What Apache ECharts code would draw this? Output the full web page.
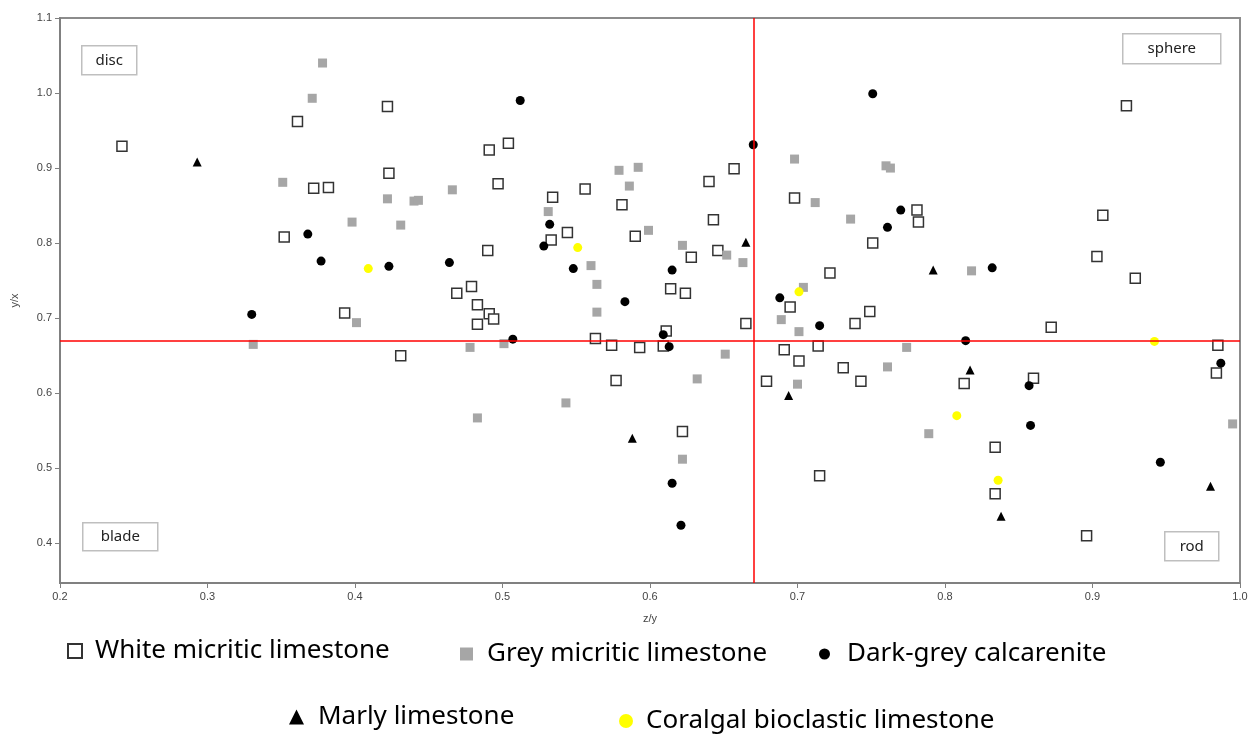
<!DOCTYPE html>
<html>
<head>
<meta charset="utf-8">
<script src="https://cdn.jsdelivr.net/npm/echarts@6/dist/echarts.min.js"></script>
<style>
  html, body { margin: 0; padding: 0; background: #fff; }
  #chart { width: 1252px; height: 734px; }
</style>
</head>
<body>
<div id="chart"></div>
<script>
// [z/y, y/x] pairs
const whiteMicritic = [
  [0.242,0.929],[0.361,0.962],[0.422,0.982],[0.423,0.893],[0.372,0.873],[0.382,0.874],[0.352,0.808],[0.393,0.707],[0.431,0.650],
  [0.491,0.924],[0.504,0.933],[0.497,0.879],[0.490,0.790],[0.479,0.742],[0.469,0.733],[0.483,0.718],[0.491,0.706],[0.494,0.699],[0.483,0.692],
  [0.534,0.861],[0.533,0.804],[0.544,0.814],[0.556,0.872],[0.581,0.851],[0.590,0.809],
  [0.563,0.673],[0.574,0.664],[0.577,0.617],[0.593,0.661],
  [0.611,0.683],[0.609,0.663],[0.614,0.739],[0.624,0.733],[0.628,0.781],[0.643,0.831],[0.640,0.882],[0.657,0.899],[0.646,0.790],[0.665,0.693],[0.622,0.549],
  [0.695,0.715],[0.749,0.709],[0.739,0.693],[0.691,0.658],[0.714,0.663],[0.701,0.643],[0.679,0.616],[0.731,0.634],[0.743,0.616],[0.715,0.490],
  [0.698,0.860],[0.751,0.800],[0.722,0.760],[0.781,0.844],[0.782,0.828],
  [0.923,0.983],[0.907,0.837],[0.903,0.782],[0.929,0.753],[0.872,0.688],
  [0.985,0.664],[0.984,0.627],[0.813,0.613],[0.860,0.620],[0.834,0.528],[0.834,0.466],[0.896,0.410]
];
const greyMicritic = [
  [0.378,1.040],[0.371,0.993],[0.351,0.881],[0.398,0.828],[0.331,0.665],[0.401,0.694],
  [0.422,0.859],[0.440,0.856],[0.443,0.857],[0.466,0.871],[0.431,0.824],[0.478,0.661],[0.501,0.666],[0.483,0.567],
  [0.531,0.842],[0.579,0.897],[0.592,0.901],[0.586,0.876],[0.599,0.817],[0.560,0.770],[0.564,0.745],[0.564,0.708],[0.543,0.587],
  [0.622,0.797],[0.652,0.784],[0.663,0.774],[0.651,0.652],[0.632,0.619],[0.622,0.512],
  [0.698,0.912],[0.760,0.903],[0.763,0.900],[0.712,0.854],[0.736,0.832],[0.704,0.741],[0.689,0.698],[0.701,0.682],[0.700,0.612],
  [0.761,0.635],[0.774,0.661],[0.789,0.546],[0.818,0.763],[0.995,0.559]
];
const darkGreyCalcarenite = [
  [0.330,0.705],[0.368,0.812],[0.377,0.776],[0.423,0.769],[0.464,0.774],[0.512,0.990],[0.532,0.825],[0.528,0.796],[0.548,0.766],[0.583,0.722],[0.507,0.672],
  [0.615,0.764],[0.609,0.678],[0.613,0.662],[0.615,0.480],[0.621,0.424],[0.670,0.931],[0.751,0.999],[0.770,0.844],[0.761,0.821],[0.688,0.727],[0.715,0.690],
  [0.832,0.767],[0.814,0.670],[0.857,0.610],[0.858,0.557],[0.946,0.508],[0.987,0.640]
];
const marlyLimestone = [
  [0.293,0.908],[0.665,0.801],[0.792,0.764],[0.588,0.540],[0.694,0.597],[0.817,0.631],[0.838,0.436],[0.980,0.476]
];
const coralgalLimestone = [
  [0.409,0.766],[0.551,0.794],[0.701,0.735],[0.808,0.570],[0.836,0.484],[0.942,0.669]
];
const xTicks = [0.2, 1.0];
const yRange = [0.347, 1.1];
const divider = 0.67;   // red quadrant lines, on both axes
const quadrants = ['disc', 'sphere', 'blade', 'rod'];

const tickFont = '"Liberation Sans Narrow", "Liberation Sans", sans-serif';
const textFont = '"Noto Sans", "Open Sans", sans-serif';

const chart = echarts.init(document.getElementById('chart'));

function quadBox(label, x, y, w, h) {
  return {
    type: 'group', left: x, top: y,
    children: [
      { type: 'rect', shape: { x: 0, y: 0, width: w, height: h },
        style: { fill: '#fff', stroke: '#bfbfbf', lineWidth: 1.5 } },
      { type: 'text', x: w / 2, y: h / 2,
        style: { text: label, fill: '#222', font: '15px ' + textFont, align: 'center', verticalAlign: 'middle' } }
    ]
  };
}

function legendAt(name, left, top, w, h, gap) {
  return {
    data: [name], left: left, top: top, itemWidth: w, itemHeight: h,
    textStyle: { fontFamily: textFont, fontSize: 26, color: '#000', padding: [0, 0, 0, gap] }
  };
}

const option = {
  animation: false,
  backgroundColor: '#fff',
  grid: { left: 60, right: 12, top: 18, bottom: 151, show: true, borderColor: '#8c8c8c', borderWidth: 2 },
  legend: [
    legendAt('White micritic limestone', 62, 633, 14, 14, 8),
    legendAt('Grey micritic limestone', 455, 636, 13, 13, 9),
    legendAt('Dark-grey calcarenite', 814, 636, 11, 11, 12),
    legendAt('Marly limestone', 284, 699, 15, 15, 9),
    legendAt('Coralgal bioclastic limestone', 614, 703, 14, 14, 8)
  ],
  xAxis: {
    type: 'value', min: xTicks[0], max: xTicks[1], interval: 0.1,
    name: 'z/y', nameLocation: 'middle', nameGap: 30,
    nameTextStyle: { fontFamily: tickFont, fontSize: 11, color: '#444' },
    axisLine: { lineStyle: { color: '#808080', width: 2 } },
    axisTick: { show: true, length: 5, lineStyle: { color: '#808080' } },
    axisLabel: { fontFamily: tickFont, fontSize: 11, color: '#444', margin: 8, formatter: v => v.toFixed(1) },
    splitLine: { show: false }
  },
  yAxis: {
    type: 'value', min: yRange[0], max: yRange[1], splitNumber: 8,
    name: 'y/x', nameLocation: 'middle', nameGap: 40,
    nameTextStyle: { fontFamily: tickFont, fontSize: 11, color: '#444' },
    axisLine: { show: true, lineStyle: { color: '#808080', width: 2 } },
    axisTick: { show: true, length: 5, lineStyle: { color: '#808080' } },
    axisLabel: { fontFamily: tickFont, fontSize: 11, color: '#444', margin: 8, showMinLabel: false,
      formatter: v => v.toFixed(1) },
    splitLine: { show: false }
  },
  graphic: [
    quadBox(quadrants[0], 81, 45, 55, 29),
    quadBox(quadrants[1], 1122, 33, 98, 30),
    quadBox(quadrants[2], 82, 522, 75, 28),
    quadBox(quadrants[3], 1164, 531, 54, 29)
  ],
  series: [
    {
      name: 'White micritic limestone', type: 'scatter', data: whiteMicritic,
      symbol: 'rect', symbolSize: 10,
      itemStyle: { color: '#fff', borderColor: '#333', borderWidth: 1.5, opacity: 1 },
      markLine: {
        silent: true, symbol: 'none', label: { show: false },
        lineStyle: { color: '#ff0000', width: 1.5, type: 'solid' },
        data: [{ xAxis: divider }, { yAxis: divider }]
      },
      z: 3
    },
    {
      name: 'Grey micritic limestone', type: 'scatter', data: greyMicritic,
      symbol: 'rect', symbolSize: 9,
      itemStyle: { color: '#a6a6a6', opacity: 1 }, z: 3
    },
    {
      name: 'Dark-grey calcarenite', type: 'scatter', data: darkGreyCalcarenite,
      symbol: 'circle', symbolSize: 9,
      itemStyle: { color: '#000', opacity: 1 }, z: 3
    },
    {
      name: 'Marly limestone', type: 'scatter', data: marlyLimestone,
      symbol: 'triangle', symbolSize: 9,
      itemStyle: { color: '#000', opacity: 1 }, z: 3
    },
    {
      name: 'Coralgal bioclastic limestone', type: 'scatter', data: coralgalLimestone,
      symbol: 'circle', symbolSize: 9,
      itemStyle: { color: '#ffff00', opacity: 1 }, z: 3
    }
  ]
};

chart.setOption(option);
</script>
</body>
</html>
